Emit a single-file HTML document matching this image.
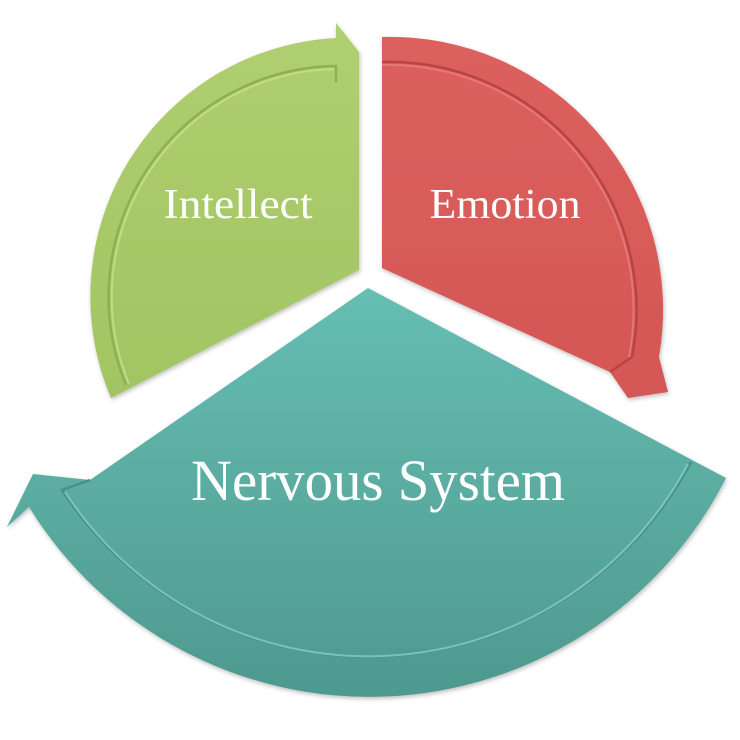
<!DOCTYPE html>
<html><head><meta charset="utf-8"><style>html,body{margin:0;padding:0;background:#fff}svg{display:block}</style></head>
<body>
<svg width="740" height="740" viewBox="0 0 740 740" xmlns="http://www.w3.org/2000/svg">
<defs>
<linearGradient id="gg" x1="0" y1="0" x2="0" y2="1"><stop offset="0" stop-color="#b0cf70"/><stop offset="1" stop-color="#a2c463"/></linearGradient>
<linearGradient id="rg" x1="0" y1="0" x2="0" y2="1"><stop offset="0" stop-color="#dc605e"/><stop offset="1" stop-color="#d45755"/></linearGradient>
<linearGradient id="tg" x1="0" y1="0" x2="0" y2="1"><stop offset="0" stop-color="#66beb3"/><stop offset="1" stop-color="#4f998f"/></linearGradient>
<filter id="sh" x="-10%" y="-10%" width="120%" height="120%"><feDropShadow dx="1" dy="2" stdDeviation="2" flood-color="#000" flood-opacity="0.25"/></filter>
</defs>
<!-- Green -->
<path d="M359,270 L111,398 A259,259 0 0 1 336,38 L336,23 L359,52 L359,270 Z" fill="url(#gg)" filter="url(#sh)"/>
<path d="M126,385 A231,231 0 0 1 336,66 L336,82" fill="none" stroke="#8fb052" stroke-width="2.5"/>
<path d="M129,384 A228,228 0 0 1 334,69" fill="none" stroke="#c7e08f" stroke-width="2" opacity="0.8"/>
<!-- Red -->
<path d="M382,268 L382,37 A273,273 0 0 1 659,357 L668,392 L628,398 L610,372 Z" fill="url(#rg)" filter="url(#sh)"/>
<path d="M382,62 A248,248 0 0 1 632,357 L610,372" fill="none" stroke="#b84443" stroke-width="2.5"/>
<path d="M382,65 A245,245 0 0 1 629,357" fill="none" stroke="#e88583" stroke-width="2" opacity="0.7"/>
<!-- Teal -->
<path d="M368,288 L726,478 A400,400 0 0 1 29,507 L7,527 L33,474 L90,480 Z" fill="url(#tg)" filter="url(#sh)"/>
<path d="M691,462 A365,365 0 0 1 62,490 L90,480" fill="none" stroke="#479087" stroke-width="2.5"/>
<path d="M688,464 A362,362 0 0 1 65,492" fill="none" stroke="#86d0c6" stroke-width="2" opacity="0.8"/>
<!-- Text -->
<g font-family="'Liberation Serif', serif" fill="#fff">
<text x="238" y="218" font-size="42" text-anchor="middle" textLength="149" lengthAdjust="spacingAndGlyphs">Intellect</text>
<text x="505" y="218" font-size="42" text-anchor="middle" textLength="151" lengthAdjust="spacingAndGlyphs">Emotion</text>
<text x="378" y="500" font-size="58" text-anchor="middle" textLength="374" lengthAdjust="spacingAndGlyphs">Nervous System</text>
</g>
</svg>
</body></html>
